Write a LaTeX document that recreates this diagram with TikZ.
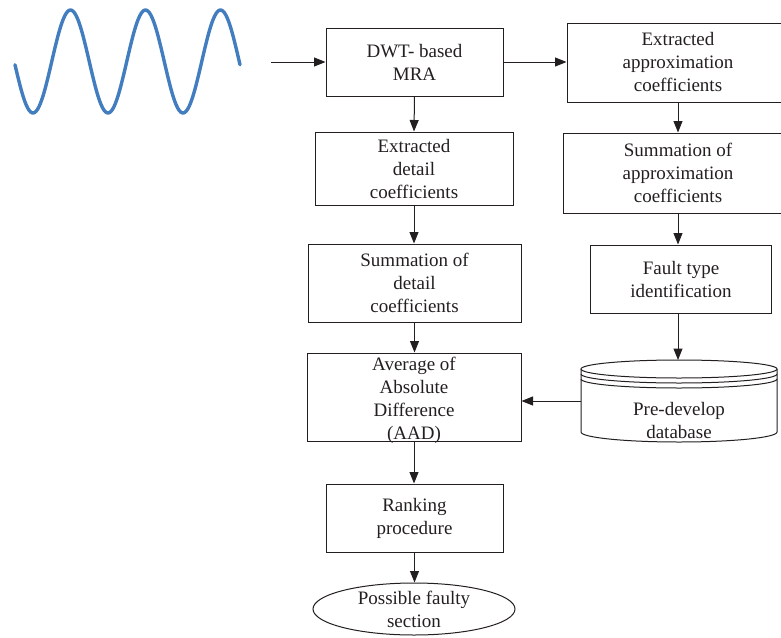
\documentclass[tikz,border=0pt]{standalone}
\usepackage{fontspec}
\setmainfont{Liberation Serif}
\newfontfamily\diafont{Liberation Serif}
\usetikzlibrary{arrows.meta,shapes.geometric}
\definecolor{wavecol}{RGB}{66,125,191}
\definecolor{inkcol}{RGB}{35,31,32}
\tikzset{
  box/.style={draw=inkcol, line width=1pt, rectangle, inner sep=0pt, align=center,
    font=\diafont\fontsize{19}{23}\selectfont, text=inkcol},
  term/.style={draw=inkcol, line width=1pt, ellipse, inner sep=0pt, align=center,
    font=\diafont\fontsize{19}{23}\selectfont, text=inkcol},
  lbl/.style={inner sep=0pt, align=center, font=\diafont\fontsize{19}{23}\selectfont, text=inkcol},
  arr/.style={draw=inkcol, line width=1pt, -{Triangle[length=11.5pt,width=9pt]}},
  cyl/.style={draw=inkcol, line width=1pt},
  wave/.style={draw=wavecol, line width=3.4pt, line cap=round}
}
\begin{document}
\begin{tikzpicture}[x=1pt,y=-1pt]
\useasboundingbox (0,0) rectangle (781,637);
% input signal
\draw[wave] plot[domain=15:240, samples=160, smooth] (\x, {61.5 + 51.5*cos(4.8*(\x-33))});
% boxes
\node[box, minimum width=177, minimum height=68] (dwt) at (414.5,62) {DWT- based\\MRA};
\node[box, minimum width=222, minimum height=79] (exa) at (678,62.5) {Extracted\\approximation\\coefficients};
\node[box, minimum width=230, minimum height=80] (sma) at (678,173) {Summation of\\approximation\\coefficients};
\node[box, minimum width=198, minimum height=73] (exd) at (414,168.5) {Extracted\\detail\\coefficients};
\node[box, minimum width=213, minimum height=78] (smd) at (414.5,283) {Summation of\\detail\\coefficients};
\node[box, minimum width=181, minimum height=68] (flt) at (681,279) {Fault type\\identification};
\node[box, minimum width=214, minimum height=88] (aad) at (414,397) {};
\node[lbl] (aadt) at (414,400) {Average of\\Absolute\\Difference\\(AAD)};
\node[box, minimum width=177, minimum height=68] (rnk) at (414.5,518) {Ranking\\procedure};
\node[term, minimum width=202, minimum height=52] (psf) at (414,609) {Possible faulty\\section};
% database cylinder
\draw[cyl] (581,369) -- (581,432) arc[start angle=180, end angle=360, x radius=98pt, y radius=10pt] -- (777,369);
\draw[cyl, fill=white] (679,369) ellipse[x radius=98pt, y radius=9pt];
\draw[cyl] (581,374) arc[start angle=180, end angle=360, x radius=98pt, y radius=9pt];
\draw[cyl] (581,379) arc[start angle=180, end angle=360, x radius=98pt, y radius=9pt];
\node[lbl] (db) at (679,420) {Pre-develop\\database};
\coordinate (dbtop) at (678,360);
\coordinate (dbleft) at (581,401);
\coordinate (in) at (271,62);
% connectors
\draw[arr] (in) -- (dwt.west);
\draw[arr] (dwt.east) -- (dwt.east -| exa.west);
\draw[arr] (dwt.south) -- (exd.north);
\draw[arr] (exa.south) -- (sma.north);
\draw[arr] (sma.south) -- (sma.south |- flt.north);
\draw[arr] (sma.south |- flt.south) -- (dbtop);
\draw[arr] (exd.south) -- (exd.south |- smd.north);
\draw[arr] (smd.south) -- (smd.south |- aad.north);
\draw[arr] (dbleft) -- (dbleft -| aad.east);
\draw[arr] (aad.south) -- (aad.south |- rnk.north);
\draw[arr] (rnk.south) -- (rnk.south |- psf.north);
\end{tikzpicture}
\end{document}
